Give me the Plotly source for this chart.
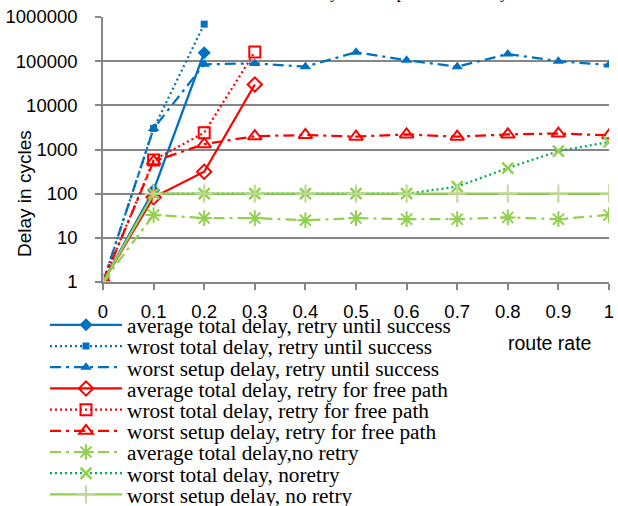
import plotly.graph_objects as go

x_all = [0, 0.1, 0.2, 0.3, 0.4, 0.5, 0.6, 0.7, 0.8, 0.9, 1.0]

avg_total_until = [1, 120, 155000]
worst_total_until = [1, 3000, 690000]
worst_setup_until = [1, 3000, 85000, 89000, 75000, 160000, 105000, 75000, 145000, 100000, 82000]

avg_total_free = [1, 83, 314, 29600]
worst_total_free = [1, 575, 2400, 162000]
worst_setup_free = [1, 540, 1320, 2000, 2130, 1950, 2200, 1950, 2200, 2300, 2100]

avg_total_noretry = [1, 33, 28, 28, 25, 28, 26.5, 26.5, 29, 26.5, 33]
worst_total_noretry = [1, 100, 100, 100, 100, 100, 100, 144, 380, 920, 1480]
worst_setup_noretry = [1, 100, 100, 100, 100, 100, 100, 100, 100, 100, 100]

names = [
    "average total delay, retry until success",
    "wrost total delay, retry until success",
    "worst setup delay, retry until success",
    "average total delay, retry for free path",
    "wrost total delay, retry for free path",
    "worst setup delay, retry for free path",
    "average total delay,no retry",
    "worst total delay, noretry",
    "worst setup delay, no retry",
]

y_ticks = [1, 10, 100, 1000, 10000, 100000, 1000000]
x_ticks = [0, 0.1, 0.2, 0.3, 0.4, 0.5, 0.6, 0.7, 0.8, 0.9, 1]

BLUE = "#0070C0"
RED = "#FF0000"
LGREEN = "#92D050"
DGREEN = "#00B050"
PALE = "#C4D79B"
DOT = "2px,3px"
DASHDOT = "11px,5px,3px,5px"

series = [
    (avg_total_until, BLUE, "solid", dict(symbol="diamond", size=10, color=BLUE)),
    (worst_total_until, BLUE, DOT, dict(symbol="square", size=7, color=BLUE)),
    (worst_setup_until, BLUE, DASHDOT, dict(symbol="triangle-up", size=10, color=BLUE)),
    (avg_total_free, RED, "solid", dict(symbol="diamond-open", size=11, color=RED, line=dict(width=2, color=RED))),
    (worst_total_free, RED, DOT, dict(symbol="square-open", size=11, color=RED, line=dict(width=2, color=RED))),
    (worst_setup_free, RED, DASHDOT, dict(symbol="triangle-up-open", size=12, color=RED, line=dict(width=2, color=RED))),
    (avg_total_noretry, LGREEN, DASHDOT, dict(symbol="asterisk-open", size=13, color=LGREEN, line=dict(width=2, color=LGREEN))),
    (worst_total_noretry, DGREEN, DOT, dict(symbol="x-thin-open", size=11, color=LGREEN, line=dict(width=2.5, color=LGREEN))),
    (worst_setup_noretry, LGREEN, "solid", dict(symbol="cross-thin-open", size=13, color=PALE, line=dict(width=2, color=PALE))),
]

W, H = 618, 506
L, R, T, B = 103, 9, 17, 224
PW, PH = W - L - R, H - T - B

def px_x(p):
    return (p - L) / PW

def px_y(p):
    return (H - B - p) / PH

fig = go.Figure()
legend_layouts = {}
for i, (name, (vals, col, dash, mk)) in enumerate(zip(names, series)):
    lid = "legend" if i == 0 else f"legend{i + 1}"
    fig.add_trace(go.Scatter(
        x=x_all[:len(vals)], y=vals, name=name, mode="lines+markers",
        line=dict(color=col, width=2.25, dash=dash), marker=mk,
        legend=lid,
    ))
    legend_layouts[lid] = dict(
        x=px_x(45), xanchor="left", y=px_y(325 + i * 21.2), yanchor="middle",
        font=dict(family="Liberation Serif", size=21.3, color="black"),
        itemwidth=72, bgcolor="rgba(0,0,0,0)", borderwidth=0,
    )

fig.update_layout(
    width=W, height=H,
    margin=dict(l=L, r=R, t=T, b=B, autoexpand=False),
    paper_bgcolor="white", plot_bgcolor="white",
    showlegend=True,
    font=dict(family="Liberation Sans", size=18, color="black"),
    annotations=[
        dict(text="Delay in cycles", textangle=-90, xref="paper", yref="paper",
             x=px_x(24), y=px_y(194), xanchor="center", yanchor="middle",
             showarrow=False, font=dict(family="Liberation Sans", size=19, color="black")),
        dict(text="route rate", xref="paper", yref="paper",
             x=px_x(549), y=px_y(343), xanchor="center", yanchor="middle",
             showarrow=False, font=dict(family="Liberation Sans", size=19.5, color="black")),
        dict(text="Delay of each path with a retry", xref="paper", yref="paper",
             x=px_x(296), y=px_y(4), xanchor="left", yanchor="bottom",
             showarrow=False, font=dict(family="Liberation Serif", size=17, color="black")),
    ],
    **legend_layouts,
)

fig.update_xaxes(
    range=[0, 1], tickvals=x_ticks, ticktext=[f"{v:g}" for v in x_ticks],
    showgrid=False, zeroline=False, showline=True, linecolor="#868686", linewidth=1.5,
    ticks="outside", ticklen=6, tickcolor="#868686", tickwidth=1.5,
    ticklabelstandoff=6, automargin=False,
    tickfont=dict(family="Liberation Sans", size=18.5, color="black"),
)
fig.update_yaxes(
    type="log", range=[0, 6], tickvals=y_ticks, ticktext=[str(v) for v in y_ticks],
    showgrid=True, gridcolor="#868686", gridwidth=1.5, zeroline=False,
    showline=True, linecolor="#868686", linewidth=1.5,
    ticks="outside", ticklen=6, tickcolor="#868686", tickwidth=1.5,
    ticklabelstandoff=14, automargin=False,
    tickfont=dict(family="Liberation Sans", size=18.5, color="black"),
)

fig.write_html("out.html", config={"displayModeBar": False},
               post_script="document.body.style.margin='0';")
